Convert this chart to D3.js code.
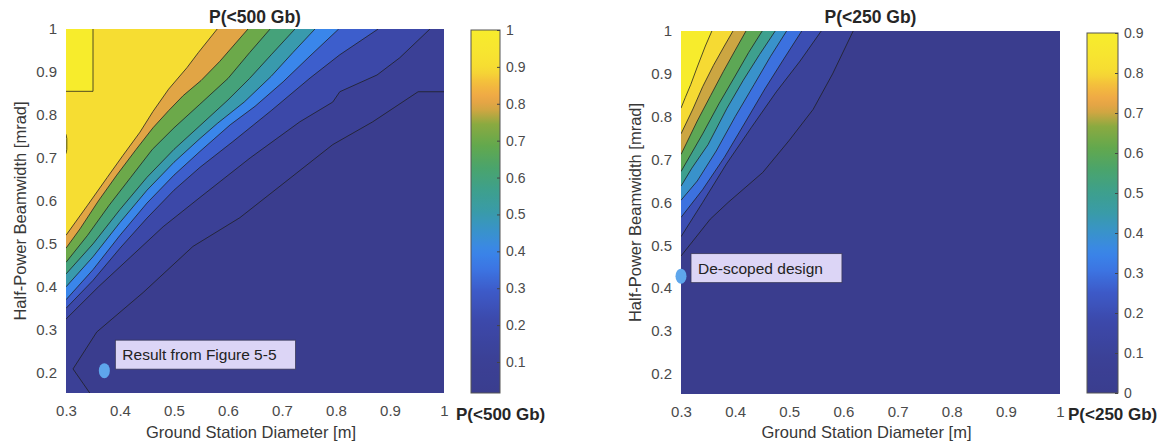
<!DOCTYPE html>
<html><head><meta charset="utf-8">
<script src="https://cdn.jsdelivr.net/npm/d3@7"></script>
<style>
body{margin:0;background:#fff;}
text{font-family:"Liberation Sans",Arial,Helvetica,sans-serif;}
</style>
</head><body>
<svg id="chart" width="1163" height="444"></svg>
<script>
// ---------------- data ----------------
const xTicks = [0.3, 0.4, 0.5, 0.6, 0.7, 0.8, 0.9, 1];
const yTicks = [0.2, 0.3, 0.4, 0.5, 0.6, 0.7, 0.8, 0.9, 1];
const xDomain = [0.3, 1.0];
const yDomain = [0.153, 1.0];

// Left panel: P(<500 Gb) contour lines [diameter, beamwidth]
const cA10 = [[1.0,0.854],[0.952,0.854],[0.868,0.784],[0.794,0.731],[0.70,0.638],[0.622,0.561],[0.535,0.494],[0.443,0.387],[0.357,0.295],[0.313,0.209],[0.344,0.153]];
const cA20 = [[0.974,1.0],[0.918,0.933],[0.876,0.893],[0.807,0.854],[0.794,0.83],[0.733,0.784],[0.641,0.70],[0.548,0.608],[0.48,0.54],[0.42,0.47],[0.36,0.40],[0.3,0.325]];
const cA30 = [[0.878,1.0],[0.807,0.94],[0.752,0.886],[0.68,0.81],[0.609,0.738],[0.548,0.678],[0.5,0.625],[0.45,0.56],[0.4,0.49],[0.35,0.415],[0.3,0.35]];
const cA40 = [[0.805,1.0],[0.75,0.935],[0.702,0.877],[0.65,0.82],[0.604,0.777],[0.548,0.715],[0.5,0.66],[0.45,0.595],[0.4,0.52],[0.35,0.44],[0.3,0.37]];
const cA50 = [[0.761,1.0],[0.72,0.945],[0.68,0.89],[0.63,0.83],[0.58,0.78],[0.548,0.745],[0.5,0.69],[0.45,0.625],[0.4,0.55],[0.35,0.47],[0.3,0.40]];
const cA60 = [[0.724,1.0],[0.68,0.94],[0.64,0.885],[0.6,0.835],[0.548,0.775],[0.5,0.72],[0.45,0.655],[0.4,0.58],[0.35,0.5],[0.3,0.43]];
const cA70 = [[0.678,1.0],[0.64,0.945],[0.6,0.885],[0.548,0.825],[0.5,0.77],[0.46,0.72],[0.42,0.655],[0.38,0.59],[0.34,0.52],[0.3,0.457]];
const cA80 = [[0.637,1.0],[0.585,0.925],[0.55,0.88],[0.517,0.845],[0.49,0.81],[0.461,0.77],[0.43,0.72],[0.394,0.66],[0.36,0.6],[0.326,0.535],[0.3,0.49]];
const cA90 = [[0.58,1.0],[0.545,0.945],[0.524,0.91],[0.49,0.86],[0.461,0.808],[0.437,0.76],[0.405,0.705],[0.376,0.654],[0.34,0.59],[0.3,0.52]];
const cA100a = [[0.35,1.0],[0.35,0.855],[0.3,0.855]];
const cA100b = [[0.3,0.755],[0.3015,0.745],[0.3015,0.72],[0.3,0.71]];
const levelsA = [0.1, 0.2, 0.3, 0.4, 0.5, 0.6, 0.7, 0.8, 0.9, 1.0, 1.0];
const contoursA = [cA10, cA20, cA30, cA40, cA50, cA60, cA70, cA80, cA90, cA100a, cA100b];
const cbDomainA = [0.016, 1.0];
const cbTicksA = [0.1, 0.2, 0.3, 0.4, 0.5, 0.6, 0.7, 0.8, 0.9, 1];
const markA = [0.371, 0.205];

// Right panel: P(<250 Gb)
const cB10 = [[0.618,1.0],[0.58,0.9],[0.544,0.817],[0.5,0.745],[0.451,0.67],[0.387,0.6],[0.354,0.561],[0.3,0.475]];
const cB20 = [[0.559,1.0],[0.52,0.93],[0.476,0.858],[0.43,0.775],[0.384,0.69],[0.34,0.6],[0.3,0.52]];
const cB30 = [[0.523,1.0],[0.49,0.935],[0.455,0.865],[0.42,0.79],[0.38,0.705],[0.34,0.63],[0.3,0.565]];
const cB40 = [[0.495,1.0],[0.465,0.94],[0.435,0.875],[0.4,0.8],[0.365,0.72],[0.33,0.65],[0.3,0.605]];
const cB50 = [[0.474,1.0],[0.445,0.945],[0.415,0.885],[0.385,0.82],[0.35,0.735],[0.32,0.68],[0.3,0.638]];
const cB60 = [[0.45,1.0],[0.425,0.95],[0.4,0.895],[0.37,0.83],[0.34,0.76],[0.3,0.672]];
const cB70 = [[0.42,1.0],[0.4,0.955],[0.378,0.905],[0.355,0.85],[0.33,0.79],[0.3,0.712]];
const cB80 = [[0.396,1.0],[0.38,0.965],[0.36,0.92],[0.34,0.87],[0.322,0.818],[0.3,0.76]];
const cB90 = [[0.357,1.0],[0.345,0.965],[0.33,0.916],[0.318,0.875],[0.308,0.845],[0.3,0.82]];
const levelsB = [0.1, 0.2, 0.3, 0.4, 0.5, 0.6, 0.7, 0.8, 0.9];
const contoursB = [cB10, cB20, cB30, cB40, cB50, cB60, cB70, cB80, cB90];
const cbDomainB = [0, 0.9];
const cbTicksB = [0, 0.1, 0.2, 0.3, 0.4, 0.5, 0.6, 0.7, 0.8, 0.9];
const markB = [0.3, 0.428];

// ---------------- colormap (parula-like, as seen in the scan) ----------------
const cmapT = [0, 0.1, 0.2, 0.28, 0.34, 0.39, 0.45, 0.5, 0.56, 0.62, 0.68, 0.74, 0.78, 0.81, 0.85, 0.89, 0.94, 1.0];
const cmapC = ["#3a3d8e","#3b4197","#3c49ab","#3d5ac8","#3c74e2","#3a86ea","#3993c8","#399ba8","#3ea08c","#4aa46c","#62a84e","#8aaa40","#d0a642","#eea547","#f3ba3e","#f6db33","#f7e530","#f7ec2c"];
const cmap = d3.scaleLinear().domain(cmapT).range(cmapC).interpolate(d3.interpolateRgb).clamp(true);

const svg = d3.select("#chart");
const defs = svg.append("defs");

function closePoly(pts) {
  const [x0, x1] = xDomain, [y0, y1] = yDomain;
  const W = x1 - x0, H = y1 - y0, e = 1e-6;
  const per = (pt) => {
    const [d, t] = pt;
    if (Math.abs(t - y1) < e) return d - x0;
    if (Math.abs(d - x1) < e) return W + (y1 - t);
    if (Math.abs(t - y0) < e) return W + H + (x1 - d);
    return 2 * W + H + (t - y0);
  };
  const corners = [[0, [x0, y1]], [W, [x1, y1]], [W + H, [x1, y0]], [2 * W + H, [x0, y0]]];
  const ps = per(pts[0]), pe = per(pts[pts.length - 1]);
  let add;
  if (pe < ps) add = corners.filter(c => c[0] > pe && c[0] < ps);
  else add = corners.filter(c => c[0] > pe).concat(corners.filter(c => c[0] < ps));
  return pts.concat(add.map(c => c[1]));
}

function panel(cfg) {
  const x = d3.scaleLinear().domain(xDomain).range([cfg.left, cfg.right]);
  const y = d3.scaleLinear().domain(yDomain).range([cfg.bottom, cfg.top]);
  const cnorm = d3.scaleLinear().domain(cfg.cbDomain).range([0, 1]).clamp(true);
  const g = svg.append("g");
  const clipId = "clip" + cfg.id;
  defs.append("clipPath").attr("id", clipId).append("rect")
    .attr("x", cfg.left).attr("y", cfg.top)
    .attr("width", cfg.right - cfg.left).attr("height", cfg.bottom - cfg.top);
  const plot = g.append("g").attr("clip-path", `url(#${clipId})`);
  plot.append("rect").attr("x", cfg.left).attr("y", cfg.top)
    .attr("width", cfg.right - cfg.left).attr("height", cfg.bottom - cfg.top)
    .attr("fill", cmap(0));
  const line = d3.line().x(d => x(d[0])).y(d => y(d[1]));
  cfg.contours.forEach((c, i) => {
    plot.append("path").attr("d", line(closePoly(c)) + "Z")
      .attr("fill", cmap(cnorm(cfg.levels[i])));
  });
  cfg.contours.forEach((c) => {
    plot.append("path").attr("d", line(c)).attr("fill", "none")
      .attr("stroke", "#1e1e1e").attr("stroke-width", 0.9).attr("stroke-opacity", 0.85);
  });

  // axes
  const ax = g.append("g").attr("transform", `translate(0,${cfg.bottom})`)
    .call(d3.axisBottom(x).tickValues(xTicks).tickFormat(d3.format("")).tickSize(0).tickPadding(12));
  const ay = g.append("g").attr("transform", `translate(${cfg.left},0)`)
    .call(d3.axisLeft(y).tickValues(yTicks).tickFormat(d3.format("")).tickSize(0).tickPadding(9));
  [ax, ay].forEach(a => {
    a.select(".domain").remove();
    a.selectAll("text").attr("font-size", 15).attr("fill", "#4a4a4a")
      .attr("font-family", '"Liberation Sans",Arial,sans-serif');
  });
  g.append("text").attr("x", (cfg.left + cfg.right) / 2 - 4).attr("y", 438)
    .attr("text-anchor", "middle").attr("font-size", 16.5).attr("fill", "#383838")
    .text("Ground Station Diameter [m]");
  g.append("text").attr("transform", `translate(${cfg.left - 40},${(cfg.top + cfg.bottom) / 2}) rotate(-90)`)
    .attr("text-anchor", "middle").attr("font-size", 16.5).attr("fill", "#383838")
    .text("Half-Power Beamwidth [mrad]");
  g.append("text").attr("x", (cfg.left + cfg.right) / 2).attr("y", 23)
    .attr("text-anchor", "middle").attr("font-size", 17.5).attr("font-weight", "bold").attr("fill", "#262626")
    .text(cfg.title);

  // colorbar
  const cy = d3.scaleLinear().domain(cfg.cbDomain).range([cfg.cbBottom, cfg.cbTop]);
  const gradId = "grad" + cfg.id;
  const grad = defs.append("linearGradient").attr("id", gradId)
    .attr("x1", 0).attr("y1", 1).attr("x2", 0).attr("y2", 0);
  d3.range(0, 1.0001, 0.02).forEach(t => {
    grad.append("stop").attr("offset", t).attr("stop-color", cmap(t));
  });
  g.append("rect").attr("x", cfg.cbLeft).attr("y", cfg.cbTop)
    .attr("width", cfg.cbRight - cfg.cbLeft).attr("height", cfg.cbBottom - cfg.cbTop)
    .attr("fill", `url(#${gradId})`).attr("stroke", "#555").attr("stroke-width", 1);
  const ac = g.append("g").attr("transform", `translate(${cfg.cbRight},0)`)
    .call(d3.axisRight(cy).tickValues(cfg.cbTicks).tickFormat(d3.format("")).tickSize(-3).tickPadding(6));
  ac.select(".domain").remove();
  ac.selectAll("line").attr("stroke", "#444");
  ac.selectAll("text").attr("font-size", 14).attr("fill", "#4a4a4a")
    .attr("font-family", '"Liberation Sans",Arial,sans-serif');
  g.append("text").attr("x", cfg.cbLabelX).attr("y", 420)
    .attr("font-size", 17).attr("font-weight", "bold").attr("fill", "#262626")
    .text(cfg.title);

  // annotation
  const mx = x(cfg.mark[0]), my = y(cfg.mark[1]);
  const box = g.append("g");
  const bx = mx + cfg.boxDx, byc = my + cfg.boxDy;
  const txt = box.append("text").attr("x", bx + 7).attr("y", byc + 5.5)
    .attr("font-size", 15.5).attr("fill", "#222").text(cfg.note);
  const tw = txt.node().getComputedTextLength();
  box.insert("rect", "text").attr("x", bx).attr("y", byc - 14.5)
    .attr("width", tw + 26).attr("height", 29)
    .attr("fill", "#dcd5f6").attr("stroke", "#3a3a5a").attr("stroke-width", 0.8);
  g.append("ellipse").attr("cx", mx).attr("cy", my).attr("rx", 5.5).attr("ry", 7.5)
    .attr("fill", "#5ea6ec");
}

panel({id: "A", left: 66, right: 444, top: 29, bottom: 393,
  levels: levelsA, contours: contoursA, cbDomain: cbDomainA, cbTicks: cbTicksA,
  cbLeft: 471, cbRight: 500, cbTop: 30, cbBottom: 393, cbLabelX: 456,
  title: "P(<500 Gb)", mark: markA, note: "Result from Figure 5-5", boxDx: 11, boxDy: -16});

panel({id: "B", left: 681, right: 1060, top: 31, bottom: 394,
  levels: levelsB, contours: contoursB, cbDomain: cbDomainB, cbTicks: cbTicksB,
  cbLeft: 1087, cbRight: 1118, cbTop: 33, cbBottom: 393, cbLabelX: 1068,
  title: "P(<250 Gb)", mark: markB, note: "De-scoped design", boxDx: 10, boxDy: -8});
</script>
</body></html>
